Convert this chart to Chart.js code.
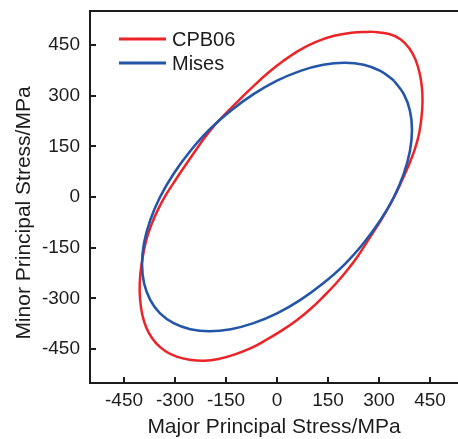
<!DOCTYPE html>
<html><head><meta charset="utf-8">
<script src="https://cdn.jsdelivr.net/npm/chart.js@4"></script>
<style>html,body{margin:0;padding:0;overflow:hidden;background:#fff;width:458px;height:439px}canvas{display:block}</style>
</head><body><canvas id="c" width="470" height="439"></canvas>
<script>
const seriesNames = ['CPB06', 'Mises'];
const cpbX = [274, 219, 165, 113, 64, 18, -25, -66, -105, -144, -182, -213, -242, -270, -298, -325, -349, -369, -385, -395, -402, -404, -400, -391, -377, -356, -328, -295, -257, -215, -172, -128, -77, -29, 17, 60, 101, 139, 174, 207, 237, 264, 293, 320, 346, 367, 387, 405, 418, 425, 428, 426, 419, 407, 389, 364, 330, 274];
const cpbY = [489, 486, 476, 458, 433, 402, 368, 331, 293, 254, 214, 175, 134, 93, 51, 9, -35, -81, -129, -178, -228, -278, -327, -368, -402, -432, -456, -472, -481, -484, -479, -467, -447, -421, -393, -363, -329, -292, -255, -216, -176, -134, -89, -45, 3, 48, 93, 140, 188, 236, 282, 326, 368, 407, 440, 466, 482, 489];
const misesX = [344, 373, 391, 397, 391, 373, 344, 304, 255, 199, 136, 69, 0, -69, -136, -199, -255, -304, -344, -373, -391, -397, -391, -373, -344, -304, -255, -199, -136, -69, 0, 69, 136, 199, 255, 304, 344];
const misesY = [344, 304, 255, 199, 136, 69, 0, -69, -136, -199, -255, -304, -344, -373, -391, -397, -391, -373, -344, -304, -255, -199, -136, -69, 0, 69, 136, 199, 255, 304, 344, 373, 391, 397, 391, 373, 344];
const xTicks = [-450, -300, -150, 0, 150, 300, 450];
const yTicks = [-450, -300, -150, 0, 150, 300, 450];
const xTitle = 'Major Principal Stress/MPa';
const yTitle = 'Minor Principal Stress/MPa';

const RED = '#ec2327';
const BLUE = '#2355a8';
const INK = '#1c1c1c';
const FONT = "'Liberation Sans', Arial, sans-serif";

const toPts = (xs, ys) => xs.map((x, i) => ({ x: x, y: ys[i] }));

const decor = {
  id: 'decor',
  afterDraw(chart) {
    const ctx = chart.ctx;
    const a = chart.chartArea;
    const xs = chart.scales.x, ys = chart.scales.y;
    ctx.save();
    ctx.strokeStyle = INK;
    ctx.lineWidth = 2;
    ctx.strokeRect(a.left, a.top, a.right - a.left, a.bottom - a.top);
    ctx.beginPath();
    xTicks.forEach(v => { const p = Math.round(xs.getPixelForValue(v)); ctx.moveTo(p, a.bottom); ctx.lineTo(p, a.bottom - 6); });
    yTicks.forEach(v => { const p = Math.round(ys.getPixelForValue(v)); ctx.moveTo(a.left, p); ctx.lineTo(a.left + 6, p); });
    ctx.stroke();
    ctx.fillStyle = INK;
    ctx.font = '21px ' + FONT;
    ctx.textAlign = 'center';
    ctx.textBaseline = 'middle';
    ctx.fillText(xTitle, 274, 427);
    ctx.translate(24, 213);
    ctx.rotate(-Math.PI / 2);
    ctx.fillText(yTitle, 0, 0);
    ctx.restore();
    ctx.save();
    const ds = chart.data.datasets;
    const rows = [39, 63];
    ds.forEach((d, i) => {
      ctx.strokeStyle = d.borderColor;
      ctx.lineWidth = 3;
      ctx.beginPath();
      ctx.moveTo(119, rows[i]);
      ctx.lineTo(166, rows[i]);
      ctx.stroke();
      ctx.fillStyle = INK;
      ctx.font = '20px ' + FONT;
      ctx.textAlign = 'left';
      ctx.textBaseline = 'middle';
      ctx.fillText(d.label, 172, rows[i] + 1);
    });
    ctx.restore();
  }
};

new Chart(document.getElementById('c'), {
  type: 'scatter',
  data: {
    datasets: [
      { label: seriesNames[0], data: toPts(cpbX, cpbY), showLine: true, borderColor: RED, backgroundColor: RED, borderWidth: 2.5, pointRadius: 0, tension: 0.4, fill: false, order: 2 },
      { label: seriesNames[1], data: toPts(misesX, misesY), showLine: true, borderColor: BLUE, backgroundColor: BLUE, borderWidth: 2.6, pointRadius: 0, tension: 0.4, fill: false, order: 1 }
    ]
  },
  options: {
    responsive: false,
    animation: false,
    devicePixelRatio: 1,
    layout: { padding: { top: 11, right: 6, left: 0, bottom: 0 } },
    plugins: { legend: { display: false }, tooltip: { enabled: false } },
    scales: {
      x: {
        type: 'linear', min: -550, max: 550,
        afterBuildTicks: s => { s.ticks = xTicks.map(v => ({ value: v })); },
        afterFit: s => { s.height = 56; s.paddingLeft = 0; s.paddingRight = 0; },
        grid: { display: false, drawTicks: false },
        border: { display: false },
        ticks: { color: INK, font: { family: FONT, size: 19 }, padding: 6, maxRotation: 0, autoSkip: false }
      },
      y: {
        type: 'linear', min: -550, max: 550,
        afterBuildTicks: s => { s.ticks = yTicks.map(v => ({ value: v })); },
        afterFit: s => { s.width = 90; s.paddingTop = 0; s.paddingBottom = 0; },
        grid: { display: false, drawTicks: false },
        border: { display: false },
        ticks: { color: INK, font: { family: FONT, size: 19 }, padding: 10, autoSkip: false }
      }
    }
  },
  plugins: [decor]
});
</script>
</body></html>
